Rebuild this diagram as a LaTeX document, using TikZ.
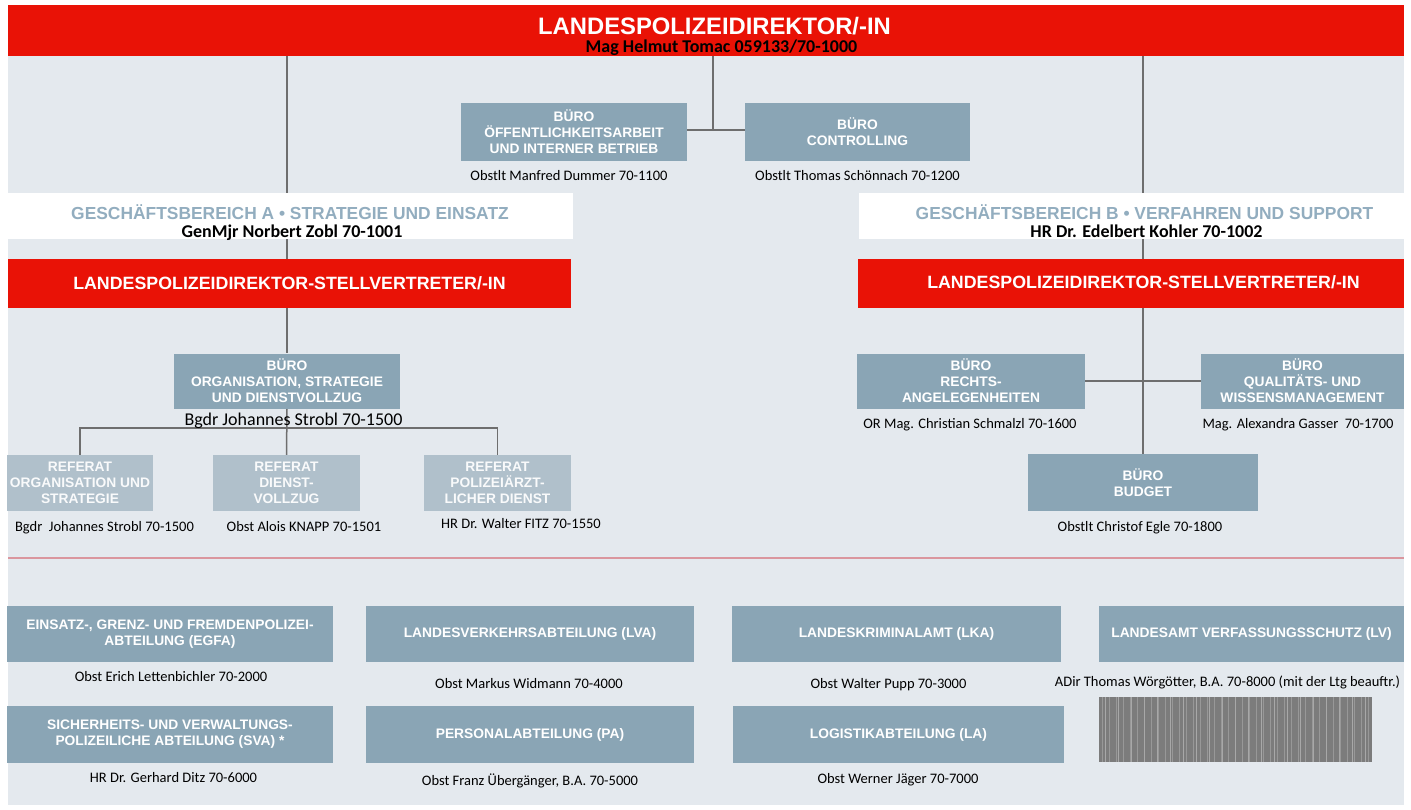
\documentclass[tikz,border=0pt]{standalone}
\usepackage{fontspec}
\setmainfont{Carlito}
\setsansfont{Liberation Sans}

\definecolor{lpdred}{RGB}{233,18,6}
\definecolor{panel}{RGB}{228,233,238}
\definecolor{boxblue}{RGB}{138,165,181}
\definecolor{boxpale}{RGB}{176,192,203}
\definecolor{gbtext}{RGB}{146,173,191}
\definecolor{wiregray}{RGB}{110,110,110}
\definecolor{seprule}{RGB}{218,150,158}
\definecolor{barcode}{RGB}{124,124,124}
\definecolor{barlight}{RGB}{152,152,152}

\newcommand{\titlefont}{\sffamily\bfseries\fontsize{23.8}{26}\selectfont}
\newcommand{\bigcaps}{\sffamily\bfseries\fontsize{17.8}{20}\selectfont}
\newcommand{\gbcaps}{\sffamily\bfseries\fontsize{17.4}{20}\selectfont}
\newcommand{\boxcaps}{\sffamily\bfseries\fontsize{13.8}{16}\selectfont}
\newcommand{\personfont}{\fontsize{14.5}{17}\selectfont}
\newcommand{\bigperson}{\fontsize{18}{21}\selectfont}
\newcommand{\cheffont}{\bfseries\fontsize{18}{21}\selectfont}

\pgfdeclarelayer{back}
\pgfdeclarelayer{wires}
\pgfsetlayers{back,wires,main}

\begin{document}
\begin{tikzpicture}[x=1pt, y=-1pt,
  redbar/.style={fill=lpdred, inner sep=0pt, text=white, font=\bigcaps},
  gbbox/.style={fill=white, inner sep=0pt, text=gbtext, font=\gbcaps},
  buero/.style={fill=boxblue, inner sep=0pt, text=white, align=center, font=\boxcaps, minimum width=226pt, minimum height=57pt},
  referat/.style={buero, fill=boxpale, text=white!92!boxpale, minimum width=146pt, minimum height=56pt},
  abteilung/.style={buero, minimum height=56pt},
  person/.style={inner sep=0pt, font=\personfont, text height=9.3pt, text depth=0pt},
  chef/.style={person, font=\cheffont, text height=11.6pt},
  wire/.style={draw=wiregray, line width=1.5pt}
]
\useasboundingbox (0,0) rectangle (1411,809);

% Hintergrund
\begin{pgfonlayer}{back}
  \fill[white] (0,0) rectangle (1411,809);
  \fill[panel] (8,56) rectangle (1404,805);
  \draw[seprule, line width=2.6pt] (8,558) -- (1404,558);
\end{pgfonlayer}

% Leitung
\node[redbar, minimum width=1396pt, minimum height=51pt] (ldir) at (706,30.5) {};
\node[inner sep=0pt, text=white, font=\titlefont, text height=17pt, text depth=0pt] (ldirtitle) at (714.5,26) {LANDESPOLIZEIDIREKTOR/-IN};
\node[chef] (ldirname) at (721.5,46.5) {Mag Helmut Tomac 059133/70-1000};

% Bueros der Leitung
\node[buero, minimum height=58pt] (oeff) at (574,132) {BÜRO\\ÖFFENTLICHKEITSARBEIT\\UND INTERNER BETRIEB};
\node[buero, minimum height=58pt, minimum width=225pt] (contr) at (857.5,132) {BÜRO\\CONTROLLING};
\node[person] (oeffname) at (569,176) {Obstlt Manfred Dummer 70-1100};
\node[person] (contrname) at (857.5,176) {Obstlt Thomas Schönnach 70-1200};

% Geschaeftsbereiche
\node[gbbox, minimum width=565pt, minimum height=46pt] (gbA) at (290.5,216) {};
\node[inner sep=0pt, text=gbtext, font=\gbcaps, text height=12.5pt, text depth=0pt] (gbAtitle) at (290,213) {GESCHÄFTSBEREICH A • STRATEGIE UND EINSATZ};
\node[chef] (gbAname) at (292,232) {GenMjr Norbert Zobl 70-1001};
\node[gbbox, minimum width=545pt, minimum height=46pt] (gbB) at (1131.5,216) {};
\node[inner sep=0pt, text=gbtext, font=\gbcaps, text height=12.5pt, text depth=0pt] (gbBtitle) at (1144.5,213) {GESCHÄFTSBEREICH B • VERFAHREN UND SUPPORT};
\node[chef] (gbBname) at (1146.5,232) {HR Dr. Edelbert Kohler 70-1002};

% Stellvertreter
\node[redbar, minimum width=563pt, minimum height=49pt] (stvA) at (289.5,283.5) {LANDESPOLIZEIDIREKTOR-STELLVERTRETER/-IN};
\node[redbar, minimum width=546pt, minimum height=49pt] (stvB) at (1131,283.5) {};
\node[inner sep=0pt, text=white, font=\bigcaps] (stvBtitle) at (1143.5,282) {LANDESPOLIZEIDIREKTOR-STELLVERTRETER/-IN};

% Bereich A
\node[buero, minimum height=55pt] (org) at (287,381) {BÜRO\\ORGANISATION, STRATEGIE\\UND DIENSTVOLLZUG};
\node[person, font=\bigperson, text height=11.6pt] (orgname) at (293.5,420) {Bgdr Johannes Strobl 70-1500};
\node[referat] (reforg) at (80,483) {REFERAT\\ORGANISATION UND\\STRATEGIE};
\node[referat, minimum width=147pt] (refdienst) at (286.5,483) {REFERAT\\DIENST-\\VOLLZUG};
\node[referat, minimum width=147pt] (refarzt) at (497.5,483) {REFERAT\\POLIZEIÄRZT-\\LICHER DIENST};
\node[person] (reforgname) at (104.5,527) {Bgdr~~Johannes Strobl 70-1500};
\node[person] (refdienstname) at (304,527) {Obst Alois KNAPP 70-1501};
\node[person] (refarztname) at (521,524) {HR Dr. Walter FITZ 70-1550};

% Bereich B
\node[buero, minimum width=228pt, minimum height=55pt] (recht) at (971,381) {BÜRO\\RECHTS-\\ANGELEGENHEITEN};
\node[buero, minimum width=203pt, minimum height=55pt] (qual) at (1302.5,381) {BÜRO\\QUALITÄTS- UND\\WISSENSMANAGEMENT};
\node[buero, minimum width=230pt] (budget) at (1143,482.5) {BÜRO\\BUDGET};
\node[person] (rechtname) at (970,424) {OR Mag. Christian Schmalzl 70-1600};
\node[person] (qualname) at (1298,424) {Mag. Alexandra Gasser~~70-1700};
\node[person] (budgetname) at (1140,527) {Obstlt Christof Egle 70-1800};

% Abteilungen
\node[abteilung, minimum width=326pt] (egfa) at (170,634) {EINSATZ-, GRENZ- UND FREMDENPOLIZEI-\\ABTEILUNG (EGFA)};
\node[abteilung, minimum width=328pt] (lva) at (530,634) {LANDESVERKEHRSABTEILUNG (LVA)};
\node[abteilung, minimum width=329pt] (lka) at (896.5,634) {LANDESKRIMINALAMT (LKA)};
\node[abteilung, minimum width=305pt] (lv) at (1251.5,634) {LANDESAMT VERFASSUNGSSCHUTZ (LV)};
\node[abteilung, minimum width=326pt, minimum height=57pt] (sva) at (170,734.5) {SICHERHEITS- UND VERWALTUNGS-\\POLIZEILICHE ABTEILUNG (SVA) *};
\node[abteilung, minimum width=328pt, minimum height=57pt] (pa) at (530,734.5) {PERSONALABTEILUNG (PA)};
\node[abteilung, minimum width=331pt, minimum height=57pt] (la) at (898.5,734.5) {LOGISTIKABTEILUNG (LA)};
\node[person] (egfaname) at (171,677) {Obst Erich Lettenbichler 70-2000};
\node[person] (lvaname) at (529,684) {Obst Markus Widmann 70-4000};
\node[person] (lkaname) at (888.5,684) {Obst Walter Pupp 70-3000};
\node[person] (lvname) at (1227.5,682) {ADir Thomas Wörgötter, B.A. 70-8000 (mit der Ltg beauftr.)};
\node[person] (svaname) at (173.5,778) {HR Dr. Gerhard Ditz 70-6000};
\node[person] (paname) at (530,781) {Obst Franz Übergänger, B.A. 70-5000};
\node[person] (laname) at (898,779) {Obst Werner Jäger 70-7000};

% Platzhalter (Streifen)
\fill[barcode] (1099,697) rectangle (1372,762);
\foreach \x in {1102,1109,...,1368} {
    \fill[barlight] (\x,697) rectangle ++(1.2,65);
}
\foreach \x in {1105,1118,...,1368} {
    \fill[barlight!85!white] (\x,697) rectangle ++(0.8,65);
}

% Verbindungen
\begin{pgfonlayer}{wires}
  \draw[wire] (ldir.south -| org) -- (stvA.north -| org);
  \draw[wire] (stvA.south -| org) -- (org.north);
  \draw[wire] (ldir.south -| budget) -- (stvB.north -| budget);
  \draw[wire] (stvB.south -| budget) -- (budget.north);
  \draw[wire] (recht.east) -- (qual.west);
  \coordinate (bjoin) at (713,130);
  \draw[wire] (ldir.south -| bjoin) -- (bjoin);
  \draw[wire] (oeff.east |- bjoin) -- (contr.west |- bjoin);
  \coordinate (rjoin) at (287,428);
  \draw[wire] (org.south) -- (refdienst.north);
  \draw[wire] (reforg.north) |- (rjoin) -| (refarzt.north);
\end{pgfonlayer}
\end{tikzpicture}
\end{document}
